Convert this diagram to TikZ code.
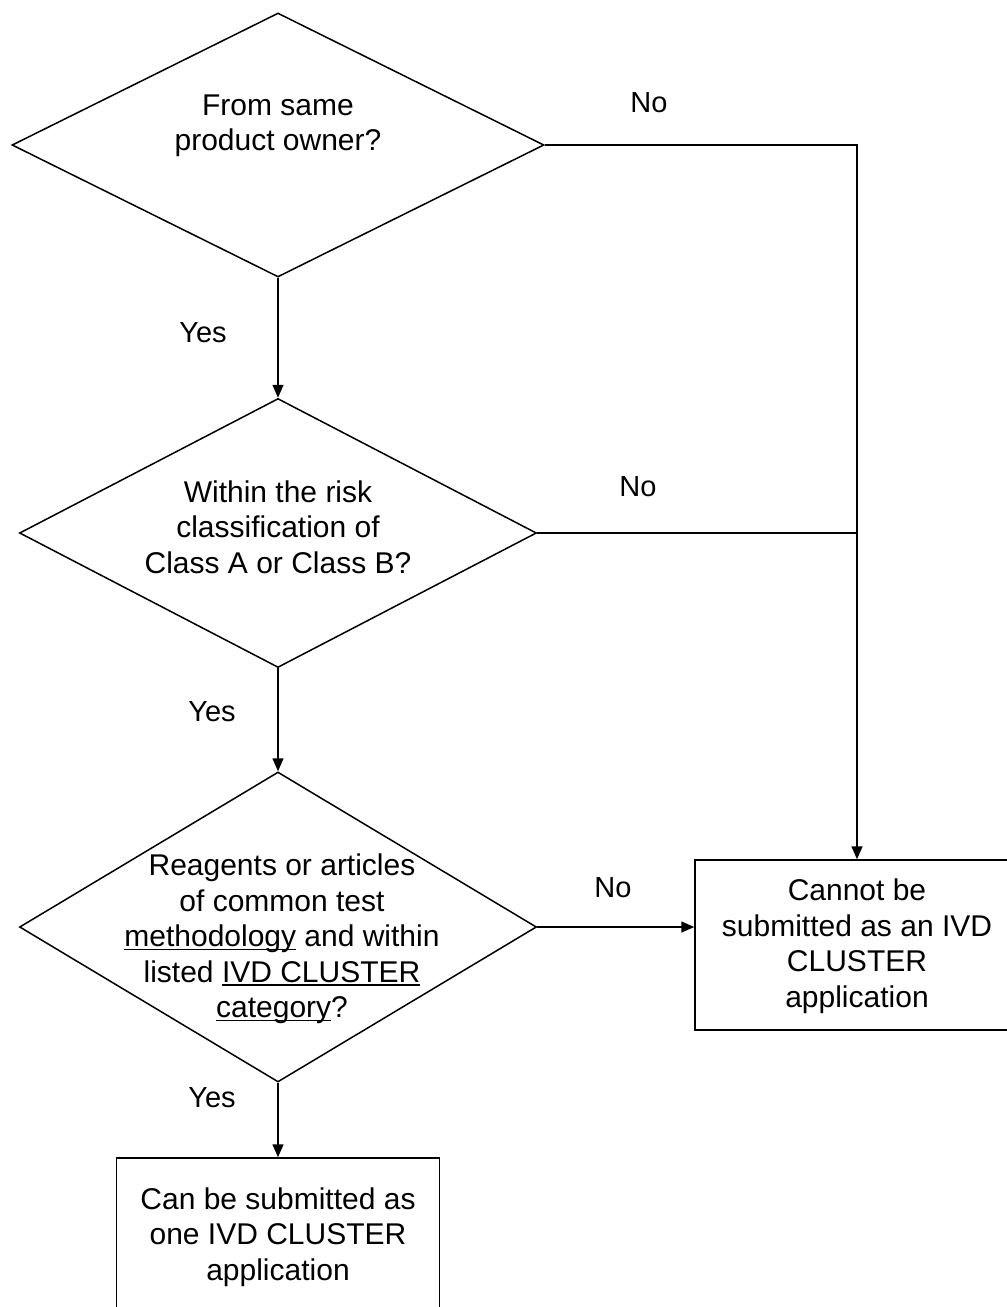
\documentclass[tikz,border=0pt]{standalone}
\usepackage{fontspec}
\setmainfont{Liberation Sans}
\usetikzlibrary{shapes.geometric,arrows.meta}
\newcommand{\myul}[1]{\setbox0\hbox{#1}\rlap{\rule[-3.5pt]{\wd0}{1.4pt}}\box0{}}
\begin{document}
\begin{tikzpicture}[x=1pt,y=-1pt,
  line width=1.5pt,
  txt/.style={font=\fontsize{30}{35.5}\selectfont, align=center, inner sep=0pt},
  decision/.style={draw, diamond, inner sep=0pt},
  endbox/.style={draw, rectangle, inner sep=0pt},
  lbl/.style={font=\fontsize{29}{32}\selectfont, inner sep=0pt},
  arr/.style={-{Triangle[length=13pt,width=11pt]}}
]
\useasboundingbox[fill=white] (0,0) rectangle (1007,1307);

\node[decision, minimum width=532pt, minimum height=264pt] (d1) at (278,145) {};
\node[txt] (t1) at (278,126) {From same\\product owner?};

\node[decision, minimum width=517pt, minimum height=269pt] (d2) at (278,533) {};
\node[txt] (t2) at (278,527) {Within the risk\\classification of\\Class A or Class B?};

\node[decision, minimum width=517pt, minimum height=310pt] (d3) at (278,927) {};
\node[txt] (t3) at (282,939) {Reagents or articles\\of common test\\\myul{methodology} and within\\listed \myul{IVD CLUSTER}\\\myul{category}?};

\node[endbox, minimum width=324pt, minimum height=170pt] (no) at (857,945) {};
\node[txt] (tno) at (857,946) {Cannot be\\submitted as an IVD\\CLUSTER\\application};

\node[endbox, minimum width=323pt, minimum height=158pt] (yes) at (278,1237) {};
\node[txt] (tyes) at (278,1237) {Can be submitted as\\one IVD CLUSTER\\application};

\coordinate (c1) at (857,145);
\coordinate (c2) at (857,533);

\draw[arr] (d1.south) -- (d2.north);
\draw[arr] (d2.south) -- (d3.north);
\draw[arr] (d3.south) -- (yes.north);
\draw[arr] (d1.east) -- (c1) -- (no.north);
\draw (d2.east) -- (c2);
\draw[arr] (d3.east) -- (d3.east -| no.west);

\node[lbl] (n1) at (649,103) {No};
\node[lbl] (n2) at (638,487) {No};
\node[lbl] (n3) at (613,888) {No};
\node[lbl] (y1) at (203,333) {Yes};
\node[lbl] (y2) at (212,712) {Yes};
\node[lbl] (y3) at (212,1098) {Yes};
\end{tikzpicture}
\end{document}
